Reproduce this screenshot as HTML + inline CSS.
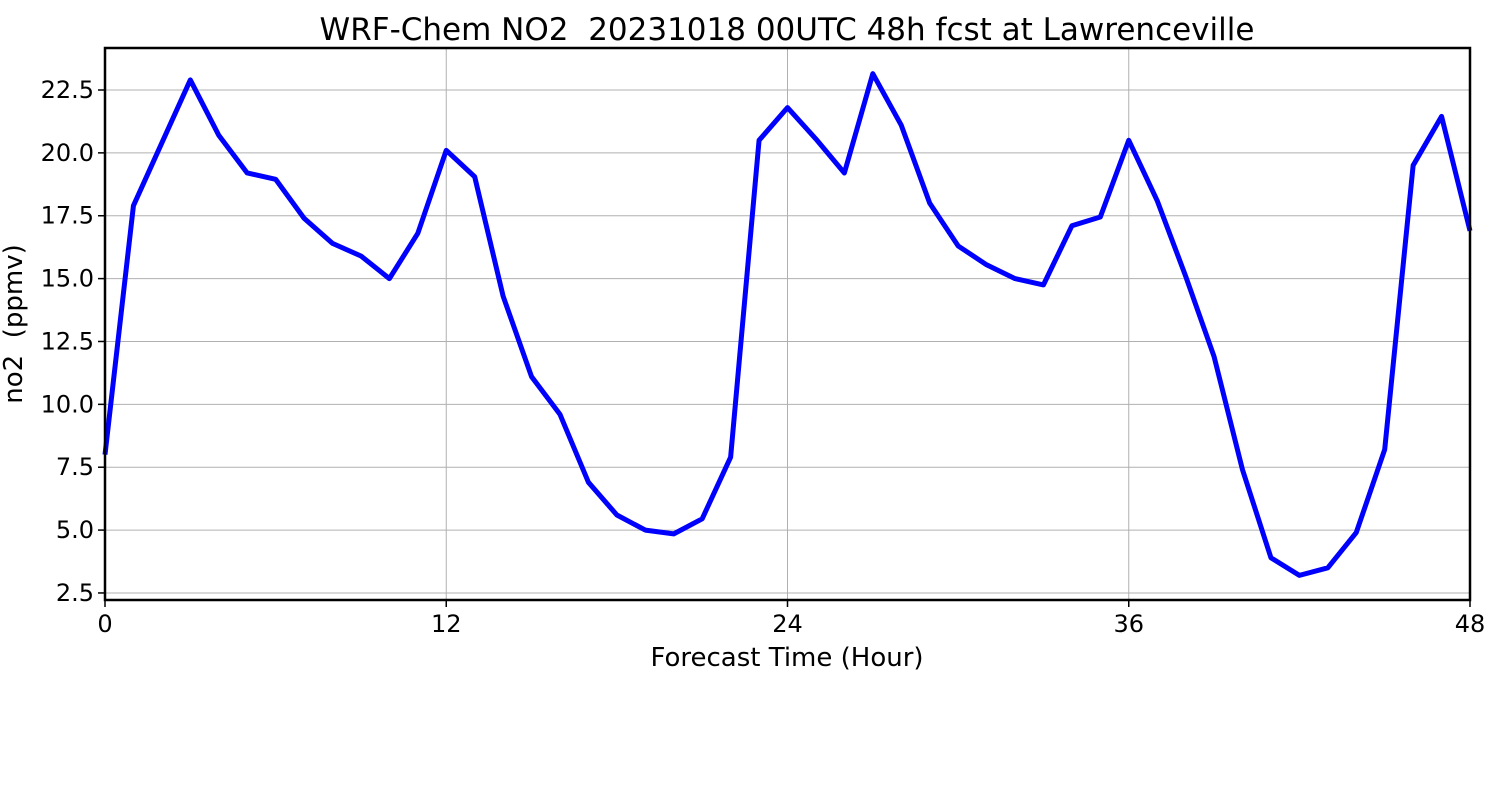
<!DOCTYPE html>
<html><head><meta charset="utf-8"><style>body{margin:0;background:#fff}svg{display:block;font-family:"DejaVu Sans","Liberation Sans",sans-serif}</style></head>
<body>
<svg id="c" width="1500" height="800"></svg>
<script>
const hours=[0,1,2,3,4,5,6,7,8,9,10,11,12,13,14,15,16,17,18,19,20,21,22,23,24,25,26,27,28,29,30,31,32,33,34,35,36,37,38,39,40,41,42,43,44,45,46,47,48];
const no2=[8.0,17.9,20.4,22.9,20.7,19.2,18.95,17.4,16.4,15.9,15.0,16.8,20.1,19.05,14.3,11.1,9.6,6.9,5.6,5.0,4.85,5.45,7.9,20.5,21.8,20.55,19.2,23.15,21.1,18.0,16.3,15.55,15.0,14.75,17.1,17.45,20.5,18.1,15.1,11.9,7.4,3.9,3.2,3.5,4.9,8.2,19.5,21.45,16.9];
const xTicks=[0,12,24,36,48];
const yTicks=[2.5,5.0,7.5,10.0,12.5,15.0,17.5,20.0,22.5];
const L=105,R=1470,T=48,B=600,x0=0,x1=48,y0=2.22,y1=24.17;
const sx=v=>L+(v-x0)/(x1-x0)*(R-L), sy=v=>B-(v-y0)/(y1-y0)*(B-T);
const svg=document.getElementById('c'),NS='http://www.w3.org/2000/svg';
function mk(t,a,txt){const e=document.createElementNS(NS,t);for(const k in a)e.setAttribute(k,a[k]);if(txt!==undefined)e.textContent=txt;svg.appendChild(e);return e;}
xTicks.forEach(v=>{const x=sx(v);
 let g=mk('line',{x1:x,x2:x,y1:T,y2:B,stroke:'#b0b0b0','stroke-width':1});
 
 mk('line',{x1:x,x2:x,y1:B,y2:B+7,stroke:'#000','stroke-width':1.5});
 let t=mk('text',{x:x,y:632,'font-size':24,'text-anchor':'middle'},String(v));
 });
yTicks.forEach(v=>{const y=sy(v);
 let g=mk('line',{x1:L,x2:R,y1:y,y2:y,stroke:'#b0b0b0','stroke-width':1});
 
 mk('line',{x1:L-7,x2:L,y1:y,y2:y,stroke:'#000','stroke-width':1.5});
 let t=mk('text',{x:L-11,y:y+8,'font-size':24,'text-anchor':'end'},v.toFixed(1));
 });
let p=mk('polyline',{points:hours.map((h,i)=>sx(h)+','+sy(no2[i])).join(' '),fill:'none',stroke:'#0000ff','stroke-width':5,'stroke-linejoin':'round'});

let f=mk('rect',{x:L,y:T,width:R-L,height:B-T,fill:'none',stroke:'#000','stroke-width':2.5});

let ti=mk('text',{x:787,y:40,'font-size':31,'text-anchor':'middle'},'WRF-Chem NO2  20231018 00UTC 48h fcst at Lawrenceville');

ti.setAttribute('xml:space','preserve');ti.style.whiteSpace='pre';
let xl=mk('text',{x:787,y:666,'font-size':26,'text-anchor':'middle'},'Forecast Time (Hour)');

let yl=mk('text',{x:0,y:0,'font-size':26,'text-anchor':'middle',transform:'translate(22,324) rotate(-90)'},'no2  (ppmv)');
yl.style.whiteSpace='pre';
</script>
</body></html>
